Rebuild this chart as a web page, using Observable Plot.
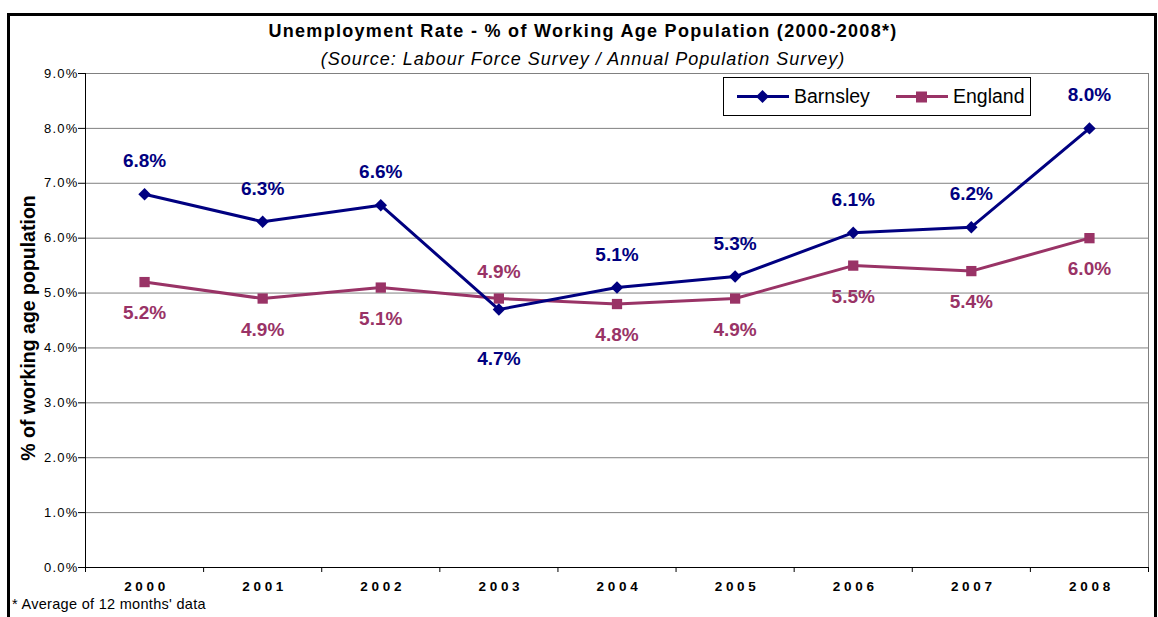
<!DOCTYPE html>
<html>
<head>
<meta charset="utf-8">
<script src="https://cdn.jsdelivr.net/npm/d3@7"></script>
<script src="https://cdn.jsdelivr.net/npm/@observablehq/plot@0.6"></script>
<style>
  html, body { margin: 0; padding: 0; background: #fff; }
  body { font-family: "Liberation Sans", Arial, sans-serif; color: #000; }
  #wrap { position: relative; width: 1158px; height: 617px; overflow: hidden; background: #fff; }
  #chart { position: absolute; left: 0; top: 0; }
  #frame { position: absolute; left: 7px; top: 13px; width: 1144px; height: 650px; border: 3px solid #000; pointer-events: none; }
  .title { position: absolute; left: 8px; width: 1150px; text-align: center; white-space: nowrap; }
  #t1 { top: 21px; font-size: 18px; font-weight: bold; line-height: 20px; letter-spacing: 1.3px; }
  #t2 { top: 49px; font-size: 18px; font-style: italic; line-height: 20px; letter-spacing: 1px; }
  #ylab { position: absolute; left: 28px; top: 328px; transform: translate(-50%, -50%) rotate(-90deg); font-size: 19.5px; font-weight: bold; white-space: nowrap; line-height: 22px; }
  #foot { position: absolute; left: 12px; top: 596px; font-size: 14.5px; line-height: 16px; white-space: nowrap; letter-spacing: 0.3px; }
  #legend { position: absolute; left: 723px; top: 77px; width: 306px; height: 37px; border: 1px solid #000; background: #fff; }
  #legend .item { position: absolute; top: 0; height: 37px; display: flex; align-items: center; font-size: 19.5px; }
  #legend svg { margin-right: 5px; }
  [aria-label="x-axis tick label"] text { letter-spacing: 3.7px; }
  [aria-label="y-axis tick label"] text { letter-spacing: 1.2px; }
</style>
</head>
<body>
<div id="wrap">
  <div id="chart"></div>
  <div id="frame"></div>
  <div class="title" id="t1">Unemployment Rate - % of Working Age Population (2000-2008*)</div>
  <div class="title" id="t2">(Source: Labour Force Survey / Annual Population Survey)</div>
  <div id="ylab">% of working age population</div>
  <div id="foot">* Average of 12 months' data</div>
  <div id="legend"></div>
</div>
<script>
// ---- data ----
const years = [2000, 2001, 2002, 2003, 2004, 2005, 2006, 2007, 2008];
const barnsley = [6.8, 6.3, 6.6, 4.7, 5.1, 5.3, 6.1, 6.2, 8.0];
const england = [5.2, 4.9, 5.1, 4.9, 4.8, 4.9, 5.5, 5.4, 6.0];
const yTicks = [0, 1, 2, 3, 4, 5, 6, 7, 8, 9];
const seriesNames = ["Barnsley", "England"];
const seriesColors = ["#000080", "#993366"];

// ---- tables ----
const bRows = years.map((year, i) => ({ year, series: seriesNames[0], value: barnsley[i], other: england[i] }));
const eRows = years.map((year, i) => ({ year, series: seriesNames[1], value: england[i], other: barnsley[i] }));
const bounds = [...years.map(y => y - 0.5), years[years.length - 1] + 0.5];
const fmt = d => d.toFixed(1) + "%";

const labelStyle = { x: "year", y: "value", text: d => fmt(d.value), fontSize: 19, fontWeight: "bold", lineAnchor: "middle" };

const chart = Plot.plot({
  width: 1158,
  height: 617,
  marginLeft: 85,
  marginRight: 10,
  marginTop: 73,
  marginBottom: 50,
  style: { fontFamily: "'Liberation Sans', Arial, sans-serif", color: "#000", background: "transparent", overflow: "visible" },
  x: { domain: [bounds[0], bounds[bounds.length - 1]], label: null, axis: null },
  y: { domain: [yTicks[0], yTicks[yTicks.length - 1]], label: null, axis: null },
  marks: [
    Plot.ruleY(yTicks.slice(1), { stroke: "#808080", strokeWidth: 1 }),
    Plot.ruleX([bounds[bounds.length - 1]], { stroke: "#808080", strokeWidth: 1 }),
    Plot.ruleX([bounds[0]], { stroke: "#000", strokeWidth: 1 }),
    Plot.ruleY([yTicks[0]], { stroke: "#000", strokeWidth: 1 }),
    Plot.axisY({ ticks: yTicks, tickFormat: fmt, tickSize: 7, tickPadding: 0, fontSize: 13, stroke: "#000" }),
    Plot.axisX({ ticks: bounds, tickFormat: () => "", tickSize: 5, stroke: "#000" }),
    Plot.axisX({ ticks: years, tickFormat: d => String(d), tickSize: 0, tickPadding: 14, fontSize: 13.5, fontWeight: "bold", dx: 2 }),
    Plot.lineY(eRows, { x: "year", y: "value", stroke: seriesColors[1], strokeWidth: 3 }),
    Plot.dot(eRows, { x: "year", y: "value", symbol: "square", r: 5.8, fill: seriesColors[1], stroke: "none" }),
    Plot.lineY(bRows, { x: "year", y: "value", stroke: seriesColors[0], strokeWidth: 3 }),
    Plot.dot(bRows, { x: "year", y: "value", symbol: "diamond2", r: 5.6, fill: seriesColors[0], stroke: "none" }),
    Plot.text(bRows.filter(d => d.value >= d.other), { ...labelStyle, fill: seriesColors[0], dy: -33 }),
    Plot.text(bRows.filter(d => d.value < d.other), { ...labelStyle, fill: seriesColors[0], dy: 49 }),
    Plot.text(eRows.filter(d => d.value <= d.other), { ...labelStyle, fill: seriesColors[1], dy: 31 }),
    Plot.text(eRows.filter(d => d.value > d.other), { ...labelStyle, fill: seriesColors[1], dy: -27 })
  ]
});
document.getElementById("chart").appendChild(chart);

// ---- legend ----
const legend = document.getElementById("legend");
const itemLeft = [13, 172];
const symbolPath = [
  '<path d="M25.5 2 L32 8.5 L25.5 15 L19 8.5 Z"/>',
  '<rect x="20" y="3.5" width="11" height="11"/>'
];
seriesNames.forEach((name, i) => {
  const item = document.createElement("div");
  item.className = "item";
  item.style.left = itemLeft[i] + "px";
  item.innerHTML =
    `<svg width="52" height="17" viewBox="0 0 52 17"><line x1="0" y1="8.5" x2="52" y2="8.5" stroke="${seriesColors[i]}" stroke-width="3"/><g fill="${seriesColors[i]}">${symbolPath[i]}</g></svg><span>${name}</span>`;
  legend.appendChild(item);
});
</script>
</body>
</html>
